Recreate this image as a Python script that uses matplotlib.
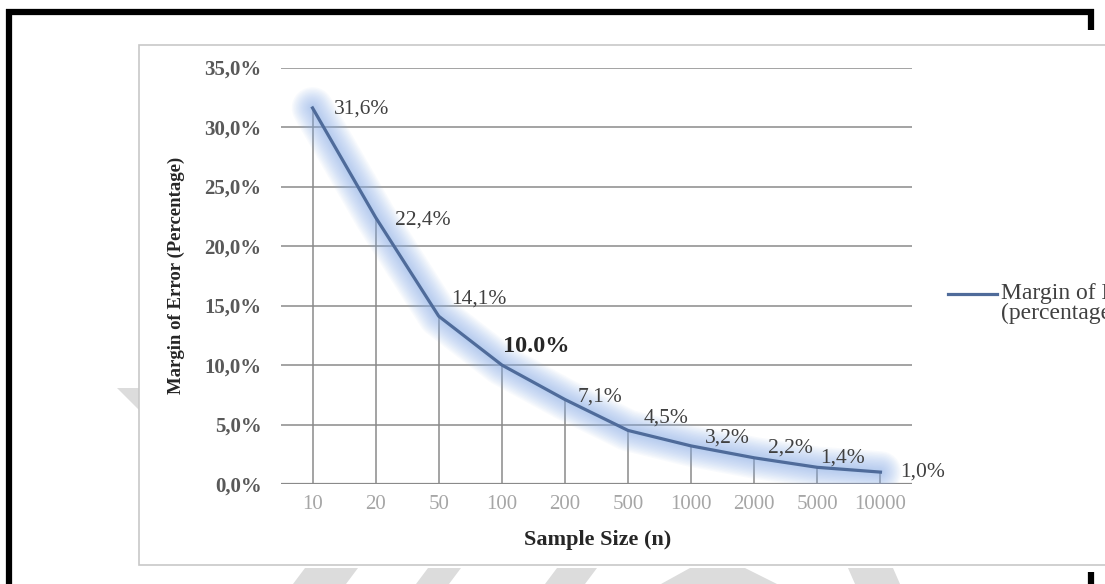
import matplotlib
matplotlib.use("Agg")
import matplotlib.pyplot as plt
from matplotlib.lines import Line2D
from matplotlib.patches import Rectangle, Polygon

# margin of error by sample size
sample_sizes = ["10", "20", "50", "100", "200", "500", "1000", "2000", "5000", "10000"]
margin_pct = [31.6, 22.4, 14.1, 10.0, 7.1, 4.5, 3.2, 2.2, 1.4, 1.0]
bold_label = [False, False, False, True, False, False, False, False, False, False]
y_ticks = [0, 5, 10, 15, 20, 25, 30, 35]

# label placement (offset in points from the point)
label_offsets = [(15, -1), (14, -2), (9, 12), (1, 13), (9, 2),
                 (11, 9), (10, 6), (10, 7), (2, 7), (14, 0)]

W, H = 1105, 584
serif = "Liberation Serif"
grid_col = "#8a8a8a"
line_col = "#4f6b9a"
glow_col = "#88aeea"

fig = plt.figure(figsize=(W / 100, H / 100), dpi=100)
fig.patch.set_facecolor("white")

def fx(px):
    return px / W

def fy(py):
    return 1 - py / H

# faint background shapes behind the chart frame
wm_col = "#dcdcdc"
for pts in [
    [(293, 584), (305, 568), (358, 568), (346, 584)],
    [(416, 584), (428, 568), (461, 568), (449, 584)],
    [(545, 584), (557, 568), (597, 568), (585, 584)],
    [(661, 584), (690, 568), (745, 568), (777, 584)],
    [(855, 584), (848, 568), (893, 568), (900, 584)],
    [(117, 388), (139, 388), (139, 410)],
]:
    fig.add_artist(Polygon([(fx(x), fy(y)) for x, y in pts], closed=True,
                           transform=fig.transFigure, facecolor=wm_col,
                           edgecolor="none", zorder=0))

# chart area frame
fig.add_artist(Rectangle((fx(139), fy(565)), fx(1200) - fx(139), fy(45) - fy(565),
                         transform=fig.transFigure, facecolor="white",
                         edgecolor="#c8c8c8", lw=1.2, zorder=1))

# black page border
for xs, ys in [((6, 1094), (12, 12)), ((9, 9), (9, 584)),
               ((1091, 1091), (9, 30)), ((1091, 1091), (572, 584))]:
    fig.add_artist(Line2D([fx(x) for x in xs], [fy(y) for y in ys],
                          transform=fig.transFigure, color="black", lw=4.5,
                          solid_capstyle="butt", zorder=5))

ax = fig.add_axes([fx(281), fy(484), fx(912) - fx(281), fy(67.5) - fy(484)])
ax.set_facecolor("none")
ax.set_zorder(2)

x = list(range(len(sample_sizes)))
ax.set_xlim(-0.5, len(sample_sizes) - 0.5)
ax.set_ylim(0, 35)

# drop lines from each point to the axis
ax.vlines(x, 0, margin_pct, color=grid_col, lw=1.1, zorder=2)

# soft glow under the line, many thin-alpha passes for a smooth falloff
for lw in range(30, 3, -2):
    ax.plot(x, margin_pct, color=glow_col, lw=lw, alpha=0.055,
            solid_capstyle="round", solid_joinstyle="round", zorder=3)
ax.plot(x, margin_pct, color=line_col, lw=2.3, solid_joinstyle="round", zorder=4)

for xi, v, b, off in zip(x, margin_pct, bold_label, label_offsets):
    txt = f"{v:.1f}%" if b else f"{v:.1f}%".replace(".", ",")
    ax.annotate(txt, (xi, v), xytext=off, textcoords="offset points",
                ha="left", va="center", family=serif,
                fontsize=17.5 if b else 15.5,
                fontweight="bold" if b else "normal",
                color="#262626" if b else "#404040", zorder=5)

ax.set_yticks(y_ticks)
ax.set_yticklabels([f"{t:.1f}%".replace(".", ",") for t in y_ticks],
                   family=serif, fontweight="bold", fontsize=15, color="#595959")
ax.set_xticks(x)
ax.set_xticklabels(sample_sizes, family=serif, fontsize=15, color="#a6a6a6")
ax.tick_params(axis="both", length=0)
ax.tick_params(axis="y", pad=14)
ax.tick_params(axis="x", pad=8)

ax.grid(axis="y", color=grid_col, lw=1.1, zorder=1)
ax.grid(axis="x", visible=False)
ax.set_axisbelow(True)
for s in ax.spines.values():
    s.set_visible(False)
ax.axhline(0, color=grid_col, lw=1.6, zorder=2)

ax.set_xlabel("Sample Size (n)", family=serif, fontweight="bold",
              fontsize=16, color="#262626")
ax.set_ylabel("Margin of Error (Percentage)", family=serif, fontweight="bold",
              fontsize=13.5, color="#262626")
ax.xaxis.set_label_coords(0.501, -0.11)
ax.yaxis.set_label_coords(-0.152, 0.5)

# legend entry at the right, running off the edge
fig.add_artist(Line2D([fx(948), fx(997)], [fy(294), fy(294)],
                      transform=fig.transFigure, color=line_col, lw=2.3, zorder=5))
fig.text(fx(1001), fy(294), "Margin of Error", family=serif, fontsize=17,
         color="#404040", ha="left", va="center", zorder=5)
fig.text(fx(1001), fy(313), "(percentage)", family=serif, fontsize=17,
         color="#404040", ha="left", va="center", zorder=5)

fig.savefig("out.png", dpi=100)
